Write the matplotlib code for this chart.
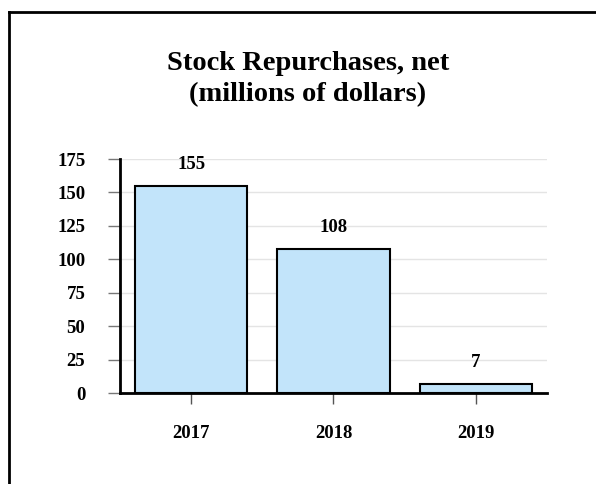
import matplotlib
matplotlib.use("Agg")
import matplotlib.pyplot as plt
from matplotlib.lines import Line2D

years = ["2017", "2018", "2019"]
repurchases = [155, 108, 7]
y_ticks = [0, 25, 50, 75, 100, 125, 150, 175]

plt.rcParams['font.family'] = ['Liberation Serif', 'DejaVu Serif']
plt.rcParams['font.weight'] = 'bold'

W, H = 596, 484
fig = plt.figure(figsize=(W / 100, H / 100), dpi=100)
ax = fig.add_axes([120 / W, 1 - 393 / H, (547 - 120) / W, (393 - 159) / H])

x = range(len(years))
bars = ax.bar(x, repurchases, width=0.79, color='#C2E4FA', edgecolor='black',
              linewidth=1.5, zorder=3)

for xi, v in zip(x, repurchases):
    ax.annotate(str(v), (xi, v), xytext=(0, 9), textcoords='offset points',
                ha='center', va='bottom', fontsize=13.5, fontweight='bold')

ax.set_xlim(-0.5, 2.5)
ax.set_ylim(0, 175)
ax.set_yticks(y_ticks)
ax.set_xticks(list(x))
ax.set_xticklabels(years)
ax.yaxis.grid(True, color='#e4e4e4', linewidth=1, zorder=0)
ax.set_axisbelow(True)

for side in ['top', 'right']:
    ax.spines[side].set_visible(False)
ax.spines['left'].set_linewidth(2)
ax.spines['bottom'].set_linewidth(2)

ax.tick_params(axis='y', length=9, width=1, color='#777777', pad=16, labelsize=13.5)
ax.tick_params(axis='x', length=8, width=1, color='#555555', pad=15, labelsize=13.5)

fig.text(308 / W, 1 - 79 / H, "Stock Repurchases, net\n(millions of dollars)",
         ha='center', va='center', fontsize=20.5, fontweight='bold', linespacing=1.32)

# frame around the picture (left and top edges only visible)
fig.add_artist(Line2D([9 / W, 9 / W], [0, 1 - 12 / H], color='black', linewidth=2,
                      transform=fig.transFigure))
fig.add_artist(Line2D([9 / W, 1], [1 - 12 / H, 1 - 12 / H], color='black', linewidth=2,
                      transform=fig.transFigure))

fig.savefig("out.png", dpi=100)
